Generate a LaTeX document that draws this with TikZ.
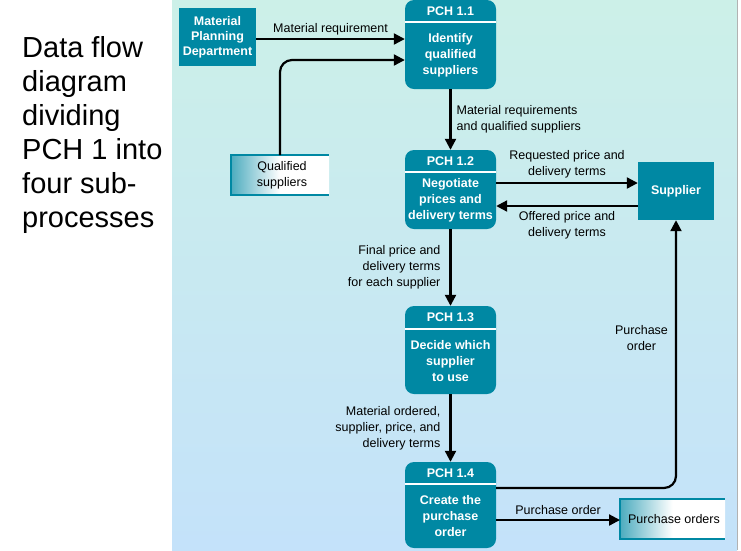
\documentclass[tikz,border=0pt]{standalone}
\usepackage{fontspec}
\setmainfont{Liberation Sans}
\usetikzlibrary{arrows.meta, positioning, calc}
\definecolor{box}{RGB}{0, 136, 163}
\definecolor{bgtop}{RGB}{204, 240, 232}
\definecolor{bgbot}{RGB}{196, 226, 250}
\tikzset{
  proc/.style={fill=box, rounded corners=9, minimum width=91pt, inner sep=0},
  ext/.style={fill=box, minimum width=77pt, minimum height=58pt, inner sep=0,
              text=white, font=\bfseries\fontsize{12.5}{15}\selectfont, align=center},
  flow/.style={line width=2.2pt, -{Triangle[length=11pt, width=11pt]}, rounded corners=12},
  lbl/.style={font=\fontsize{12.5}{16}\selectfont, inner sep=1pt},
  head/.style={text=white, font=\bfseries\fontsize{12.5}{14}\selectfont},
  body/.style={text=white, font=\bfseries\fontsize{12.5}{16}\selectfont, align=center}
}
% process box: name, centre x, top y, bottom y, header bottom y, id, text
\newcommand{\pchbox}[7]{
  \node[proc, minimum height={#4-#3}] (#1) at (#2, {(#3+#4)/2}) {};
  \draw[white, line width=1.5pt] (#2-45.5, #5) -- (#2+45.5, #5);
  \node[head] (#1h) at (#2, {(#3+#5)/2}) {#6};
  \node[body] (#1b) at (#2, {(#5+#4)/2}) {#7};
}
\begin{document}
\begin{tikzpicture}[x=1pt, y=-1pt]
  \useasboundingbox (0, 0) rectangle (741, 550);
  \shade[top color=bgtop, bottom color=bgbot] (172, 0) rectangle (737, 550);
  \draw[gray!60, line width=1pt] (737, 0) -- (737, 550);

  \node[anchor=north west, align=left, font=\fontsize{29}{34}\selectfont, inner sep=0]
    (title) at (22, 36) {Data flow\\diagram\\dividing\\PCH 1 into\\four sub-\\processes};

  \pchbox{p1}{450.5}{0}{89}{22}{PCH 1.1}{Identify\\qualified\\suppliers}
  \pchbox{p2}{450.5}{150}{229}{172}{PCH 1.2}{Negotiate\\prices and\\delivery terms}
  \pchbox{p3}{450.5}{306}{394}{329}{PCH 1.3}{Decide which\\supplier\\to use}
  \pchbox{p4}{450.5}{462}{548}{484}{PCH 1.4}{Create the\\purchase\\order}

  \node[ext] (mpd) at (217.5, 37) {Material\\Planning\\Department};
  \node[ext, minimum width=76pt] (sup) at (676, 191) {Supplier};

  % data stores
  \shade[left color=box!70, right color=white, middle color=white] (231, 155) rectangle (329, 195);
  \draw[box, line width=2pt] (329, 155) -- (231, 155) -- (231, 195) -- (329, 195);
  \node[lbl, align=center] (qs) at (282, 175) {Qualified\\suppliers};
  \shade[left color=box!70, right color=white, middle color=white] (620, 499) rectangle (725, 539);
  \draw[box, line width=2pt] (725, 499) -- (620, 499) -- (620, 539) -- (725, 539);
  \node[lbl] (po) at (674, 519) {Purchase orders};
  \coordinate (qstop) at (280, 155);
  \coordinate (poleft) at (620, 520);

  % flows
  \draw[flow] (mpd.east |- 0, 39) -- (p1.west |- 0, 39)
    node[lbl, midway, above=2pt] {Material requirement};
  \draw[flow] (qstop) |- (p1.west |- 0, 60);
  \draw[flow] (p1) -- (p2)
    node[lbl, midway, right=4pt, align=left] {Material requirements\\and qualified suppliers};
  \draw[flow] (p2.east |- 0, 183) -- (sup.west |- 0, 183)
    node[lbl, midway, above=3pt, align=center] {Requested price and\\delivery terms};
  \draw[flow] (sup.west |- 0, 206) -- (p2.east |- 0, 206)
    node[lbl, midway, below=3pt, align=center] {Offered price and\\delivery terms};
  \draw[flow] (p2) -- (p3)
    node[lbl, midway, left=8pt, align=right] {Final price and\\delivery terms\\for each supplier};
  \draw[flow] (p3) -- (p4)
    node[lbl, midway, left=8pt, align=right] {Material ordered,\\supplier, price, and\\delivery terms};
  \draw[flow] (p4.east |- 0, 488) -| (sup.south)
    node[lbl, pos=0.78, left=6pt, align=center] {Purchase\\order};
  \draw[flow] (p4.east |- poleft) -- (poleft)
    node[lbl, midway, above=3pt] {Purchase order};
\end{tikzpicture}
\end{document}
